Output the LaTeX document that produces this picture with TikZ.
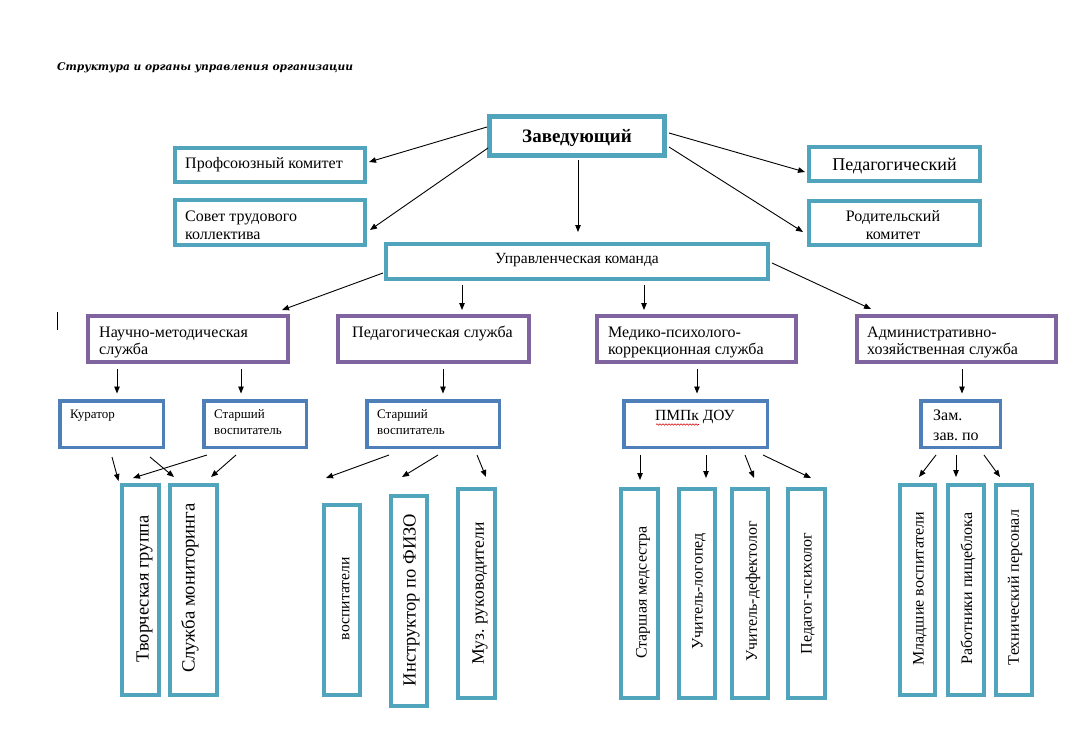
\documentclass[tikz,border=0pt]{standalone}
\usepackage{fontspec}
\setmainfont{Liberation Serif}
\newfontfamily\titlefont{DejaVu Serif}
\usetikzlibrary{arrows.meta,calc,decorations.pathmorphing}
\definecolor{tealc}{RGB}{80,164,187}
\definecolor{purc}{RGB}{128,100,160}
\definecolor{bluec}{RGB}{79,127,185}
\newcommand{\myfs}[1]{\fontsize{#1}{#1}\selectfont}
\frenchspacing
\tikzset{
  tealbox/.style={draw=tealc, line width=4pt, inner sep=0pt},
  purbox/.style={draw=purc, line width=4pt, inner sep=0pt},
  bluebox/.style={draw=bluec, line width=3.5pt, inner sep=0pt},
  arr/.style={-{Triangle[length=7pt,width=5.5pt]}, line width=0.9pt},
  txt/.style={inner sep=0pt, anchor=base west, font=\myfs{16}},
  ctxt/.style={inner sep=0pt, anchor=base, font=\myfs{16}},
  vtxt/.style={inner sep=0pt, rotate=90, anchor=center, font=\myfs{16}}
}
\begin{document}
\begin{tikzpicture}[x=1pt,y=-1pt]
\fill[white] (0,0) rectangle (1089,741);
\useasboundingbox (0,0) rectangle (1089,741);

% title
\node[inner sep=0pt, anchor=base west] (title) at (57,71)
  {\resizebox{296pt}{!}{\titlefont\bfseries\itshape Структура и органы управления организации}};
% stray cursor mark
\coordinate (cur1) at (57,312);
\coordinate (cur2) at (57,330);
\draw[line width=0.8pt] (cur1) -- (cur2);

% level 1
\node[tealbox, line width=4.5pt, minimum width=175.5pt, minimum height=39.5pt] (zav) at (577,136) {};
\draw[tealc, line width=1pt] ($(zav.north west)+(4.3,4.3)$) rectangle ($(zav.south east)+(-4.3,-4.3)$);
\node[ctxt, font=\myfs{19}\bfseries] (zav-t) at (577,142.5) {Заведующий};

\node[tealbox, minimum width=190pt, minimum height=34pt] (prof) at (270,165) {};
\node[txt] (prof-t) at (185,168.5) {Профсоюзный комитет};
\node[tealbox, minimum width=190pt, minimum height=45pt] (sovet) at (270,222.5) {};
\node[txt] (sovet-t1) at (185,221.5) {Совет трудового};
\node[txt] (sovet-t2) at (185,239.5) {коллектива};

\node[tealbox, minimum width=171pt, minimum height=34pt] (ped) at (894.5,164) {};
\node[ctxt, font=\myfs{18}] (ped-t) at (894.5,170) {Педагогический};
\node[tealbox, minimum width=171pt, minimum height=44pt] (rod) at (894.5,223) {};
\node[ctxt] (rod-t1) at (893,221.5) {Родительский};
\node[ctxt] (rod-t2) at (893,239.5) {комитет};

% level 2
\node[tealbox, minimum width=382pt, minimum height=35pt] (upr) at (577,261.5) {};
\node[ctxt, font=\myfs{15.5}] (upr-t) at (577,263) {Управленческая команда};

% level 3
\node[purbox, minimum width=200pt, minimum height=46pt] (nauch) at (188,339) {};
\node[txt] (nauch-t1) at (99,337) {Научно-методическая};
\node[txt] (nauch-t2) at (99,354) {служба};
\node[purbox, minimum width=191pt, minimum height=46pt] (pedsl) at (433.5,339) {};
\node[txt] (pedsl-t) at (352,337) {Педагогическая служба};
\node[purbox, minimum width=199pt, minimum height=46pt] (med) at (696.5,339) {};
\node[txt] (med-t1) at (608,337) {Медико-психолого-};
\node[txt] (med-t2) at (608,354) {коррекционная служба};
\node[purbox, minimum width=199pt, minimum height=46pt] (adm) at (956.5,339) {};
\node[txt] (adm-t1) at (867,337) {Административно-};
\node[txt] (adm-t2) at (867,354) {хозяйственная служба};

% level 4
\node[bluebox, minimum width=103.5pt, minimum height=46.5pt] (kur) at (111.5,424) {};
\node[txt, font=\myfs{13}] (kur-t) at (70,418) {Куратор};
\node[bluebox, minimum width=102.5pt, minimum height=46.5pt] (st1) at (255,424) {};
\node[txt, font=\myfs{13}] (st1-t1) at (214,418) {Старший};
\node[txt, font=\myfs{13}] (st1-t2) at (214,434.5) {воспитатель};
\node[bluebox, minimum width=132.5pt, minimum height=46.5pt] (st2) at (433,424) {};
\node[txt, font=\myfs{13}] (st2-t1) at (377,418) {Старший};
\node[txt, font=\myfs{13}] (st2-t2) at (377,434.5) {воспитатель};
\node[bluebox, minimum width=143.5pt, minimum height=46.5pt] (pmpk) at (695.5,424) {};
\node[txt, font=\myfs{15.5}] (pmpk-t) at (655,420) {ПМПк ДОУ};
\coordinate (wav1) at (656,424.5);
\coordinate (wav2) at (699,424.5);
\draw[red!85!black, line width=0.6pt, decorate, decoration={snake, segment length=3pt, amplitude=0.7pt}] (wav1) -- (wav2);
\node[bluebox, minimum width=79.5pt, minimum height=46.5pt] (zam) at (960.5,424) {};
\node[txt] (zam-t1) at (933,420.5) {Зам.};
\node[txt] (zam-t2) at (933,440) {зав. по};

% level 5 (vertical boxes)
\node[tealbox, minimum width=37pt, minimum height=210pt] (tv) at (140.5,590) {};
\node[vtxt, font=\myfs{18.5}] (tv-t) at (144.5,588.5) {Творческая группа};
\node[tealbox, minimum width=47pt, minimum height=210pt] (sm) at (193.5,590) {};
\node[vtxt, font=\myfs{18.7}] (sm-t) at (190,588) {Служба мониторинга};
\node[tealbox, minimum width=36pt, minimum height=190pt] (vo) at (342,600) {};
\node[vtxt, font=\myfs{15.7}] (vo-t) at (345.7,598.5) {воспитатели};
\node[tealbox, minimum width=36pt, minimum height=210pt] (fi) at (409,601) {};
\node[vtxt, font=\myfs{18.5}] (fi-t) at (411.5,600) {Инструктор по ФИЗО};
\node[tealbox, minimum width=37pt, minimum height=209pt] (mu) at (476.5,593.5) {};
\node[vtxt, font=\myfs{17.6}] (mu-t) at (480,593.5) {Муз. руководители};

\node[tealbox, minimum width=37pt, minimum height=209pt] (smed) at (639.5,593.5) {};
\node[vtxt] (smed-t) at (643,592.5) {Старшая медсестра};
\node[tealbox, minimum width=36pt, minimum height=209pt] (log) at (697,593.5) {};
\node[vtxt] (log-t) at (699,591.5) {Учитель-логопед};
\node[tealbox, minimum width=36pt, minimum height=209pt] (def) at (750,593.5) {};
\node[vtxt] (def-t) at (753,591.5) {Учитель-дефектолог};
\node[tealbox, minimum width=37pt, minimum height=209pt] (psy) at (806.5,593.5) {};
\node[vtxt] (psy-t) at (808,593.5) {Педагог-психолог};

\node[tealbox, minimum width=35pt, minimum height=210pt] (mla) at (917.5,590) {};
\node[vtxt] (mla-t) at (920,588.5) {Младшие воспитатели};
\node[tealbox, minimum width=36pt, minimum height=210pt] (rab) at (966,590) {};
\node[vtxt] (rab-t) at (968,588.5) {Работники пищеблока};
\node[tealbox, minimum width=36pt, minimum height=210pt] (tex) at (1014,590) {};
\node[vtxt] (tex-t) at (1015,587.5) {Технический персонал};

% arrows level 1
\draw[arr] ($(zav.west)+(0,-9)$) -- ($(prof.east)+(2,-3)$);
\draw[arr] ($(zav.west)+(1,12)$) -- ($(sovet.east)+(3,7.5)$);
\draw[arr] ($(zav.south)+(1,2)$) -- ($(upr.north)+(1,-10)$);
\draw[arr] ($(zav.east)+(2,-3)$) -- ($(ped.west)+(-2,8)$);
\draw[arr] ($(zav.east)+(2,11)$) -- ($(rod.west)+(-4,9)$);
% arrows level 2
\draw[arr] ($(upr.west)+(-1,11.5)$) -- ($(nauch.north east)+(-8,-4)$);
\draw[arr] ($(upr.south -| pedsl.north)+(28.5,4)$) -- ($(pedsl.north)+(28.5,-4)$);
\draw[arr] ($(upr.south -| med.north)+(-52.5,4)$) -- ($(med.north)+(-52.5,-4)$);
\draw[arr] ($(upr.east)+(2,1.5)$) -- ($(adm.north west)+(16,-5)$);
% arrows level 3
\draw[arr] ($(nauch.south -| kur.north)+(5.5,5)$) -- ($(kur.north)+(5.5,-5.5)$);
\draw[arr] ($(nauch.south -| st1.north)+(-14,5)$) -- ($(st1.north)+(-14,-5.5)$);
\draw[arr] ($(pedsl.south -| st2.north)+(10,5)$) -- ($(st2.north)+(10,-5.5)$);
\draw[arr] ($(med.south -| pmpk.north)+(1.5,5)$) -- ($(pmpk.north)+(1.5,-5.5)$);
\draw[arr] ($(adm.south -| zam.north)+(1.5,5)$) -- ($(zam.north)+(1.5,-5.5)$);
% arrows level 4
\draw[arr] ($(kur.south)+(0.5,8)$) -- ($(tv.north west)+(-1.5,-2)$);
\draw[arr] ($(kur.south)+(38.5,8)$) -- ($(sm.north west)+(6,-6)$);
\draw[arr] ($(st1.south)+(-48,6)$) -- ($(tv.north)+(-7.5,-5)$);
\draw[arr] ($(st1.south)+(-19,6)$) -- ($(sm.north east)+(-8,-6)$);
\draw[arr] ($(st2.south)+(-44,6)$) -- ($(vo.north)+(-16,-25)$);
\draw[arr] ($(st2.south)+(5,6)$) -- ($(fi.north)+(-7,-17)$);
\draw[arr] ($(st2.south)+(44,6)$) -- ($(mu.north)+(9.5,-10)$);
\draw[arr] ($(pmpk.south -| smed.north)+(0.5,6)$) -- ($(smed.north)+(0.5,-7)$);
\draw[arr] ($(pmpk.south -| log.north)+(9,6)$) -- ($(log.north)+(9,-9)$);
\draw[arr] ($(pmpk.south)+(49.5,6)$) -- ($(def.north)+(4,-9)$);
\draw[arr] ($(pmpk.south)+(67.5,6)$) -- ($(psy.north)+(4.5,-9)$);
\draw[arr] ($(zam.south)+(-24.5,6)$) -- ($(mla.north)+(1.5,-6)$);
\draw[arr] ($(zam.south -| rab.north)+(-10,6)$) -- ($(rab.north)+(-10,-6)$);
\draw[arr] ($(zam.south)+(23.5,6)$) -- ($(tex.north)+(-14,-6)$);
\end{tikzpicture}
\end{document}
